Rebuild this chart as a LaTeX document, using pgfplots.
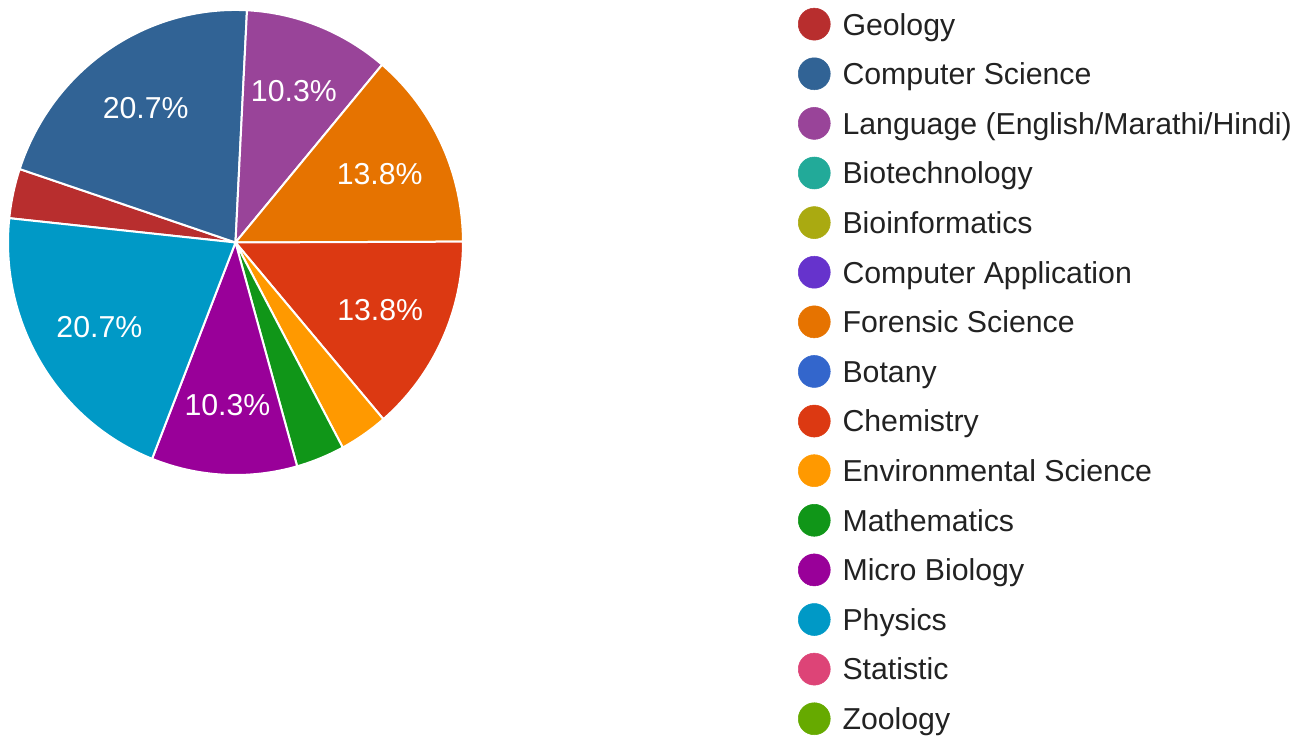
\documentclass[border=0pt]{standalone}
\usepackage{pgfplots}
\pgfplotsset{compat=1.18}
\usepackage{fontspec}
\setmainfont{Liberation Sans}
\definecolor{cGeo}{HTML}{B82E2E}
\definecolor{cCS}{HTML}{316395}
\definecolor{cLang}{HTML}{994499}
\definecolor{cBiotech}{HTML}{22AA99}
\definecolor{cBioinf}{HTML}{AAAA11}
\definecolor{cCApp}{HTML}{6633CC}
\definecolor{cFor}{HTML}{E67300}
\definecolor{cBot}{HTML}{3366CC}
\definecolor{cChem}{HTML}{DC3912}
\definecolor{cEnv}{HTML}{FF9900}
\definecolor{cMath}{HTML}{109618}
\definecolor{cMicro}{HTML}{990099}
\definecolor{cPhys}{HTML}{0099C6}
\definecolor{cStat}{HTML}{DD4477}
\definecolor{cZoo}{HTML}{66AA00}
\definecolor{txt}{HTML}{222222}
\newcommand\chartfont{\fontsize{22.7}{27}\selectfont}
\begin{document}
\begin{tikzpicture}
\begin{axis}[
  x=0.75pt, y=0.75pt,
  xmin=0, xmax=1314, ymin=0, ymax=737,
  hide axis, clip=false,
  legend image code/.code={\fill[#1,overlay] (12pt,2.65pt) circle[radius=12pt]; \path (0pt,2pt) (24pt,2pt);},
  legend cell align=left,
  legend style={at={(axis cs:798,723.3)}, anchor=north west, draw=none, fill=none,
    inner sep=0pt, outer sep=0pt, row sep=16.21pt, column sep=9.0pt,
    font=\chartfont, text=txt,
    nodes={inner sep=0pt, text height=16pt, text depth=5pt}},
]
% pie slices: count / colour / label, clockwise from Geology
\xdef\cur{174}
\foreach \v/\col/\lab in {1/cGeo/{},6/cCS/{20.7\%},3/cLang/{10.3\%},4/cFor/{13.8\%},4/cChem/{13.8\%},1/cEnv/{},1/cMath/{},3/cMicro/{10.3\%},6/cPhys/{20.7\%}}{
  \pgfmathsetmacro\nxt{\cur - \v*360/29}
  \pgfmathsetmacro\midang{(\cur+\nxt)/2}
  \edef\tmp{\noexpand\fill[\col, draw=white, line width=1.5pt, line join=round]
     (axis cs:235.5,494.5) -- ([shift={(\cur:170.6pt and 174.4pt)}]axis cs:235.5,494.5)
     arc[start angle=\cur, end angle=\nxt, x radius=170.6pt, y radius=174.4pt] -- cycle;
     \noexpand\node[text=white, font=\noexpand\chartfont] at ([shift={(\midang:119.4pt and 122.1pt)}]axis cs:235.5,494.5) {\unexpanded\expandafter{\lab}};}
  \tmp
  \global\let\cur\nxt
}
\addlegendimage{cGeo}\addlegendentry{Geology}
\addlegendimage{cCS}\addlegendentry{Computer Science}
\addlegendimage{cLang}\addlegendentry{Language (English/Marathi/Hindi)}
\addlegendimage{cBiotech}\addlegendentry{Biotechnology}
\addlegendimage{cBioinf}\addlegendentry{Bioinformatics}
\addlegendimage{cCApp}\addlegendentry{Computer Application}
\addlegendimage{cFor}\addlegendentry{Forensic Science}
\addlegendimage{cBot}\addlegendentry{Botany}
\addlegendimage{cChem}\addlegendentry{Chemistry}
\addlegendimage{cEnv}\addlegendentry{Environmental Science}
\addlegendimage{cMath}\addlegendentry{Mathematics}
\addlegendimage{cMicro}\addlegendentry{Micro Biology}
\addlegendimage{cPhys}\addlegendentry{Physics}
\addlegendimage{cStat}\addlegendentry{Statistic}
\addlegendimage{cZoo}\addlegendentry{Zoology}
\end{axis}
\pgfresetboundingbox
\path[use as bounding box] (current axis.south west) rectangle (current axis.north east);
\end{tikzpicture}
\end{document}
